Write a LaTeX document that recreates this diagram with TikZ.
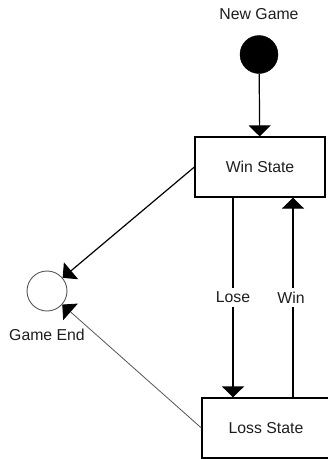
\documentclass[tikz,border=0pt]{standalone}
\usepackage{fontspec}
\setmainfont{Liberation Sans}
\usetikzlibrary{arrows.meta}
\definecolor{txt}{HTML}{1E1E1E}
\definecolor{thin}{HTML}{555555}
\tikzset{
  lbl/.style={font=\fontsize{15.8}{18}\selectfont, text=txt, inner sep=1pt},
  statebox/.style={draw=black, line width=1.2pt, minimum width=130pt, minimum height=60pt, font=\fontsize{15.8}{18}\selectfont, text=txt},
  flow/.style={line width=1.2pt, -{Triangle[length=11pt,width=22pt]}},
  thinflow/.style={line width=0.8pt, draw=thin, -{Triangle[length=11pt,width=22pt,color=black]}},
}
\begin{document}
\begin{tikzpicture}[x=1pt,y=-1pt]
\useasboundingbox (0,0) rectangle (328,459);
\node[lbl] (newlbl) at (259,14) {New Game};
\node[circle, fill=black, draw=black, minimum size=38pt, inner sep=0pt] (start) at (259,54.5) {};
\node[statebox] (win) at (260,167) {Win State};
\node[statebox, minimum width=128pt] (loss) at (266,428) {Loss State};
\node[circle, draw=thin, line width=0.9pt, minimum size=40pt, inner sep=0pt] (end) at (47,291) {};
\node[lbl] (endlbl) at (47,335) {Game End};
\coordinate (lx) at (233,0);
\coordinate (wx) at (293,0);
\draw[flow] (start) -- (win);
\draw[flow] (win.south -| lx) -- node[lbl, fill=white, inner ysep=4pt] (loselbl) {Lose} (loss.north -| lx);
\draw[flow] (loss.north -| wx) -- node[lbl, fill=white, inner ysep=4pt, xshift=-2pt] (winlbl) {Win} (win.south -| wx);
\draw[flow] (win.west) -- (end);
\draw[thinflow] (loss.west) -- (end);
\end{tikzpicture}
\end{document}
